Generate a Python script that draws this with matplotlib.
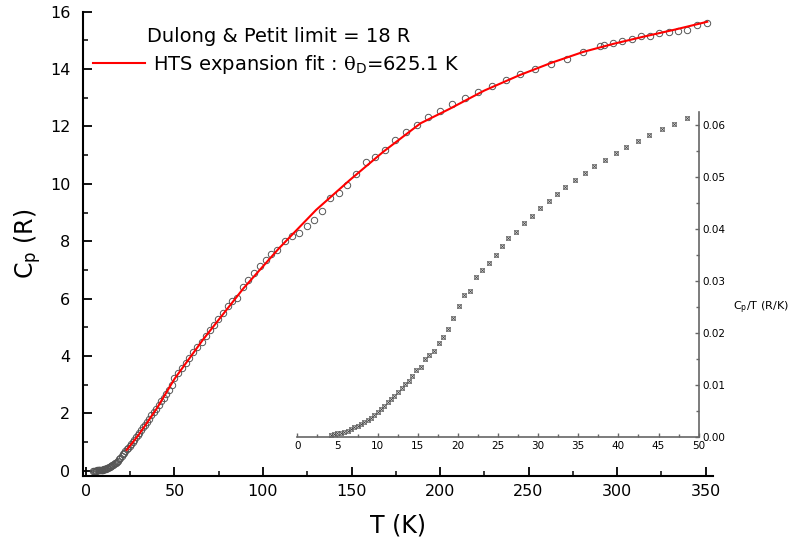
import numpy as np
import matplotlib
matplotlib.use("Agg")
import matplotlib.pyplot as plt
from matplotlib.ticker import MultipleLocator
from matplotlib.lines import Line2D

plt.rcParams['font.family'] = ['DejaVu Sans']
plt.rcParams['mathtext.fontset'] = 'custom'
plt.rcParams['mathtext.rm'] = 'DejaVu Sans'
plt.rcParams['mathtext.it'] = 'DejaVu Serif'
plt.rcParams['mathtext.bf'] = 'DejaVu Sans:bold'

# Low-temperature data (Cp/T in R/K)
T_low = [4.2, 4.6, 5.0, 5.4, 5.85, 6.3, 6.7, 7.1, 7.5, 7.9,
         8.35, 8.8, 9.2, 9.6, 10.0, 10.4, 10.85, 11.3, 11.7, 12.05,
         12.5, 13.0, 13.4, 13.9, 14.3, 14.8, 15.4, 15.9, 16.45, 17.0,
         17.6, 18.2, 18.8, 19.4, 20.1, 20.8, 21.5, 22.3, 23.05, 23.9,
         24.7, 25.5, 26.3, 27.3, 28.2, 29.2, 30.2, 31.3, 32.3, 33.4,
         34.6, 35.8, 36.97, 38.3, 39.7, 41.0, 42.4, 43.8, 45.4, 46.9,
         48.5]
CpT_low = [0.0005, 0.0006, 0.0008, 0.0009, 0.0011, 0.0013, 0.0015, 0.0019, 0.0022, 0.0026,
           0.0029, 0.0034, 0.0038, 0.0043, 0.0048, 0.0054, 0.0061, 0.0067, 0.0074, 0.0080,
           0.0088, 0.0095, 0.0102, 0.0108, 0.0118, 0.0130, 0.0136, 0.0151, 0.0159, 0.0166,
           0.0181, 0.0193, 0.0209, 0.0230, 0.0253, 0.0273, 0.0281, 0.0308, 0.0321, 0.0336,
           0.0350, 0.0367, 0.0383, 0.0395, 0.0412, 0.0426, 0.0440, 0.0455, 0.0468, 0.0482,
           0.0494, 0.0508, 0.0521, 0.0533, 0.0546, 0.0558, 0.0570, 0.0581, 0.0592, 0.0602,
           0.0613]

# Higher-temperature data (Cp in R)
T_high = [49.7, 52.2, 54.0, 56.3, 58.4, 60.6, 62.9, 65.4, 67.6, 70.1,
          72.5, 74.8, 77.2, 80.1, 82.7, 85.5, 88.5, 91.7, 94.9, 98.3,
          101.5, 104.7, 107.7, 112.4, 116.6, 120.5, 124.7, 129.0, 133.3, 138.0,
          142.8, 147.6, 152.7, 158.0, 163.1, 168.9, 174.7, 180.6, 186.8, 193.4,
          200.0, 207.0, 214.1, 221.6, 229.2, 237.3, 245.2, 253.7, 262.5, 271.6,
          280.6, 290.2, 292.7, 297.9, 303.0, 308.3, 313.6, 318.6, 323.9, 329.4,
          334.6, 339.7, 345.4, 350.7]
Cp_high = [3.22, 3.39, 3.57, 3.74, 3.94, 4.13, 4.30, 4.50, 4.69, 4.90,
           5.08, 5.29, 5.49, 5.75, 5.92, 6.01, 6.41, 6.65, 6.88, 7.13,
           7.34, 7.55, 7.69, 8.02, 8.19, 8.30, 8.53, 8.75, 9.06, 9.49,
           9.68, 9.97, 10.34, 10.77, 10.94, 11.18, 11.54, 11.81, 12.06, 12.32,
           12.55, 12.78, 12.99, 13.21, 13.40, 13.63, 13.84, 14.01, 14.19, 14.36,
           14.58, 14.81, 14.85, 14.91, 14.98, 15.05, 15.14, 15.16, 15.25, 15.29,
           15.33, 15.35, 15.52, 15.62]

# HTS expansion fit curve
T_fit = [23, 30, 40, 50, 66, 89, 109, 130, 149, 168,
         189, 205, 225, 245, 263, 281, 298, 315, 333, 351]
Cp_fit = [0.72, 1.27, 2.17, 3.20, 4.56, 6.36, 7.75, 9.09, 10.13, 11.12,
          12.11, 12.60, 13.25, 13.79, 14.22, 14.60, 14.88, 15.13, 15.38, 15.65]

T_all = np.concatenate([np.array(T_low), np.array(T_high)])
Cp_all = np.concatenate([np.array(T_low) * np.array(CpT_low), np.array(Cp_high)])

fig = plt.figure(figsize=(7.98, 5.45), dpi=100)

# Main axes
ax = fig.add_axes([82.7/798, (545-476)/545, (713.3-82.7)/798, (476-11.7)/545])
ax.plot(T_all, Cp_all, linestyle='none', marker='o', markersize=4.6,
        markerfacecolor='none', markeredgecolor='#555555', markeredgewidth=0.7)
ax.plot(T_fit, Cp_fit, color='#ff0000', linewidth=1.5)
ax.set_xlim(-1.86, 354.4)
ax.set_ylim(-0.185, 16.0)
ax.spines['top'].set_visible(False)
ax.spines['right'].set_visible(False)
for s in ('left', 'bottom'):
    ax.spines[s].set_linewidth(1.5)
ax.xaxis.set_major_locator(MultipleLocator(50))
ax.xaxis.set_minor_locator(MultipleLocator(25))
ax.yaxis.set_major_locator(MultipleLocator(2))
ax.yaxis.set_minor_locator(MultipleLocator(1))
ax.tick_params(which='major', direction='in', length=6.5, width=1.3, labelsize=11.5)
ax.tick_params(axis='y', which='major', pad=9)
ax.tick_params(axis='x', which='major', pad=6)
ax.tick_params(which='minor', direction='in', length=3.5, width=1.1)
ax.set_xlabel('T (K)', fontsize=17, labelpad=10)
ax.set_ylabel('C$_{\\rm p}$ (R)', fontsize=17, labelpad=4)

# Legend-like annotations
fig.text(147/798, 1 - 36/545, 'Dulong & Petit limit = 18 R', fontsize=14,
         ha='left', va='center')
fig.add_artist(Line2D([93/798, 145/798], [1 - 63/545, 1 - 63/545],
                      color='#ff0000', linewidth=1.5))
fig.text(153/798, 1 - 64/545, 'HTS expansion fit : $\\theta_{\\rm D}$=625.1 K',
         fontsize=14, ha='left', va='center')

# Inset
axi = fig.add_axes([297.3/798, (545-437.3)/545, (698.7-297.3)/798, (437.3-111.7)/545])
axi.patch.set_alpha(0)
axi.plot(T_low, CpT_low, linestyle='none', marker='s', markersize=2.6,
         markerfacecolor='#dddddd', markeredgecolor='#666666', markeredgewidth=0.5)
axi.plot(T_low, CpT_low, linestyle='none', marker='x', markersize=2.2,
         color='#444444', markeredgewidth=0.5)
axi.set_xlim(0, 50)
axi.set_ylim(0, 0.0626)
axi.spines['top'].set_visible(False)
axi.spines['left'].set_visible(False)
for s in ('right', 'bottom'):
    axi.spines[s].set_color('#666666')
    axi.spines[s].set_linewidth(1.2)
axi.yaxis.tick_right()
axi.xaxis.set_major_locator(MultipleLocator(5))
axi.xaxis.set_minor_locator(MultipleLocator(2.5))
axi.set_yticks([0, 0.01, 0.02, 0.03, 0.04, 0.05, 0.06])
axi.set_yticklabels(['0.00', '0.01', '0.02', '0.03', '0.04', '0.05', '0.06'])
axi.yaxis.set_minor_locator(MultipleLocator(0.005))
axi.tick_params(which='major', direction='in', length=3, width=1, color='#666666',
                labelsize=7.5, pad=3)
axi.tick_params(which='minor', direction='in', length=2.5, width=1, color='#666666')
fig.text(733/798, 1 - 308/545, 'C$_{\\rm p}$/T (R/K)', fontsize=8, ha='left', va='center')

fig.savefig('out.png', dpi=100)
